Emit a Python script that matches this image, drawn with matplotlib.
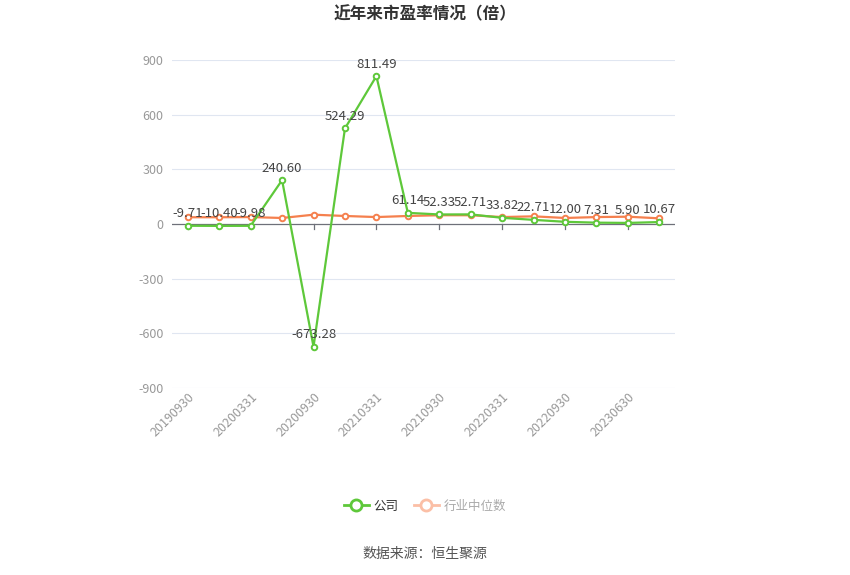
import matplotlib
matplotlib.use("Agg")
import matplotlib.pyplot as plt
from matplotlib.lines import Line2D

plt.rcParams['font.family'] = ['Noto Sans CJK SC', 'DejaVu Sans']

# 数据
dates = ["20190930", "20191231", "20200331", "20200630", "20200930", "20201231",
         "20210331", "20210630", "20210930", "20211231", "20220331", "20220630",
         "20220930", "20230331", "20230630", "20231231"]
company_pe = [-9.71, -10.40, -9.98, 240.60, -673.28, 524.29, 811.49, 61.14,
              52.33, 52.71, 33.82, 22.71, 12.00, 7.31, 5.90, 10.67]
industry_pe = [37, 37, 38, 33, 51, 44, 38, 44, 48, 48, 38, 42, 33, 38, 40, 31]
y_ticks = [-900, -600, -300, 0, 300, 600, 900]

green = '#5ec83a'
orange = '#f5804e'

fig = plt.figure(figsize=(8.5, 5.75), dpi=100)
ax = fig.add_axes([0.2024, 0.3252, 0.5918, 0.5705])

x = list(range(len(dates)))

# 网格线
for v in y_ticks:
    if v != 0:
        ax.axhline(v, color='#e0e6f1', lw=0.8, zorder=0)
ax.axhline(0, color='#6e7079', lw=0.9, zorder=1)

ax.plot(x, industry_pe, color=orange, lw=1.6, marker='o', ms=4,
        mfc='white', mec=orange, mew=1.4, zorder=3)
ax.plot(x, company_pe, color=green, lw=1.6, marker='o', ms=4,
        mfc='white', mec=green, mew=1.4, zorder=4)

for i, v in enumerate(company_pe):
    ax.annotate(f"{v:.2f}", (i, v), xytext=(0, 4), textcoords='offset points',
                ha='center', va='bottom', fontsize=9.5, color='#444444', zorder=5)

ax.set_xlim(-0.5, len(dates) - 0.5)
ax.set_ylim(-900, 900)
ax.set_yticks(y_ticks)
ax.set_yticklabels([str(v) for v in y_ticks], color='#999999', fontsize=9)
ax.tick_params(axis='y', length=0, pad=6)

ax.set_xticks(x[::2])
ax.set_xticklabels(dates[::2], rotation=45, ha='right', rotation_mode='anchor',
                   color='#999999', fontsize=9)
ax.tick_params(axis='x', length=0, pad=2)
for s in ax.spines.values():
    s.set_visible(False)

# x轴刻度画在零线上
for i in x[::2]:
    ax.plot([i, i], [0, -25], color='#6e7079', lw=0.9, zorder=1)

fig.text(0.5, 1 - 14 / 575, "近年来市盈率情况（倍）", ha='center', va='center',
         fontsize=12, fontweight='bold', color='#333333')

handles = [
    Line2D([], [], color=green, lw=2, marker='o', ms=8, mfc='white', mec=green, mew=2),
    Line2D([], [], color='#fbbfa6', lw=2, marker='o', ms=8, mfc='white', mec='#fbbfa6', mew=2),
]
leg = fig.legend(handles, ["公司", "行业中位数"], loc='center',
                 bbox_to_anchor=(0.5, 1 - 506 / 575), ncol=2, frameon=False,
                 fontsize=9, handlelength=2, columnspacing=1.2, handletextpad=0.4)
leg.get_texts()[0].set_color('#333333')
leg.get_texts()[1].set_color('#aaaaaa')

fig.text(0.5, 1 - 554 / 575, "数据来源：恒生聚源", ha='center', va='center',
         fontsize=10, color='#555555')

fig.savefig("out.png", dpi=100)
